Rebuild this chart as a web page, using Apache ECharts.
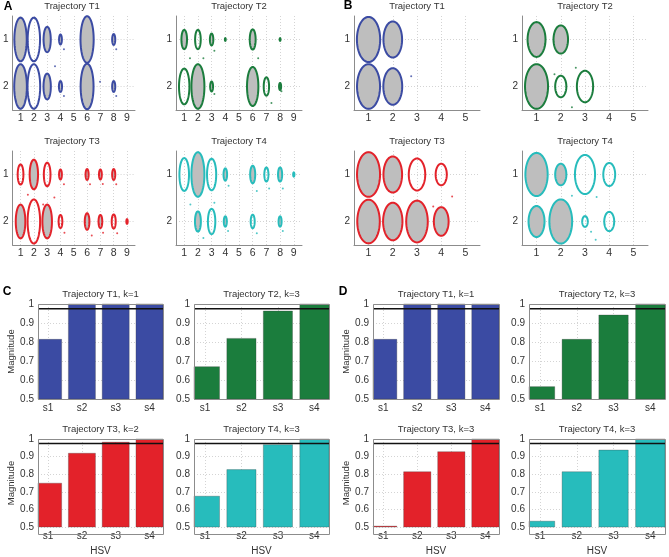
<!DOCTYPE html>
<html><head><meta charset="utf-8">
<script src="https://cdn.jsdelivr.net/npm/echarts@6/dist/echarts.min.js"></script>
<style>html,body{margin:0;padding:0;background:#fff}#c{width:669px;height:557px}</style>
</head><body><div id="c"></div>
<script>
// ---------- DATA ----------
// ellipse rows: [x, y, size (diameter in data units), filled 1/0]
const A_T1 = [[1,1,0.93,1],[2,1,0.93,0],[3,1,0.54,1],[4,1,0.21,1],[6,1,0.99,1],[8,1,0.23,1],
              [1,2,0.95,1],[2,2,0.95,0],[3,2,0.55,1],[4,2,0.23,1],[6,2,0.97,1],[8,2,0.23,1]];
const A_T2 = [[1,1,0.41,1],[2,1,0.41,0],[3,1,0.25,1],[4,1,0.06,1],[6,1,0.43,1],[8,1,0.06,1],
              [1,2,0.76,0],[2,2,0.95,1],[3,2,0.21,1],[6,2,0.83,1],[7,2,0.39,0],[8,2,0.15,1]];
const A_T3 = [[1,1,0.43,0],[2,1,0.63,1],[3,1,0.5,0],[4,1,0.21,1],[6,1,0.23,1],[7,1,0.21,1],[8,1,0.23,1],
              [1,2,0.72,1],[2,2,0.94,0],[3,2,0.72,1],[4,2,0.28,0],[6,2,0.35,1],[7,2,0.28,1],[8,2,0.3,0],[9,2,0.1,1]];
const A_T4 = [[1,1,0.7,0],[2,1,0.95,1],[3,1,0.67,0],[4,1,0.26,1],[6,1,0.37,1],[7,1,0.3,0],[8,1,0.3,1],[9,1,0.09,1],
              [2,2,0.43,1],[3,2,0.54,0],[4,2,0.22,1],[6,2,0.29,0],[8,2,0.22,1]];
const B_T1 = [[1,1,0.96,1],[2,1,0.77,1],[1,2,0.95,1],[2,2,0.78,1]];
const B_T2 = [[1,1,0.74,1],[2,1,0.6,1],[1,2,0.95,1],[2,2,0.46,0],[3,2,0.67,0]];
const B_T3 = [[1,1,0.95,1],[2,1,0.77,1],[3,1,0.68,0],[4,1,0.46,0],
              [1,2,0.93,1],[2,2,0.8,1],[3,2,0.89,1],[4,2,0.61,1]];
const B_T4 = [[1,1,0.92,1],[2,1,0.46,1],[3,1,0.83,0],[4,1,0.49,0],
              [1,2,0.66,1],[2,2,0.94,1],[3,2,0.23,0],[4,2,0.41,0]];
// tiny specks: [x, y]
const A_T1_SPECKS = [[4.26,1.21],[3.59,1.57],[4.26,2.2],[6.97,1.9],[8.19,2.2],[8.19,1.21]];
const A_T2_SPECKS = [[1.42,1.4],[2.4,1.4],[3.2,1.24],[6.4,1.4],[7.37,2.35],[3.2,2.16],[8.1,2.1]];
const A_T3_SPECKS = [[1.55,1.43],[3.54,1.49],[2.7,1.64],[4.26,1.21],[6.22,1.21],[7.18,1.2],[8.19,1.21],
                     [4.3,2.24],[6.35,2.3],[7.2,2.24],[8.26,2.25]];
const A_T4_SPECKS = [[4.24,1.24],[6.3,1.35],[7.2,1.3],[8.2,1.3],[1.45,1.64],[3.2,1.6],[2.4,2.35],
                     [4.2,2.2],[6.3,2.25],[8.2,2.2]];
const B_T1_SPECKS = [[2.76,1.78]];
const B_T2_SPECKS = [[1.74,1.74],[2.62,1.6],[2.46,2.44]];
const B_T3_SPECKS = [[4.45,1.47],[3.67,1.68]];
const B_T4_SPECKS = [[2.46,1.45],[3.48,1.48],[3.25,2.22],[3.44,2.39]];

const A_X_TICKS = [1,2,3,4,5,6,7,8,9];
const B_X_TICKS = [1,2,3,4,5];
const ROW_TICKS = [1,2];

const BAR_CATS = ['s1','s2','s3','s4'];
const C_T1 = [0.814, 1, 1, 1];
const C_T2 = [0.670, 0.819, 0.963, 1];
const C_T3 = [0.749, 0.919, 0.982, 1];
const C_T4 = [0.675, 0.826, 0.968, 1];
const D_T1 = [0.814, 1, 1, 1];
const D_T2 = [0.565, 0.814, 0.942, 1];
const D_T3 = [0.505, 0.814, 0.928, 1];
const D_T4 = [0.533, 0.814, 0.937, 1];
const THRESHOLD = 0.975;

// ---------- STYLE / LAYOUT ----------
const COL = {blue:'#3b4ba3', green:'#1b7d3d', red:'#e3222a', cyan:'#27bcbc'};
const FILL = '#bebebe';
const FONT = 'Liberation Sans, Arial, Helvetica, sans-serif';
const TXT = '#333';
const AX = '#8c8c8c';

const ellPanels = [
  {d:A_T1, s:A_T1_SPECKS, c:COL.blue,  t:'Trajectory T1', g:[9,16,126,94],  xt:A_X_TICKS, xr:[0.4,9.6]},
  {d:A_T2, s:A_T2_SPECKS, c:COL.green, t:'Trajectory T2', g:[176,16,126,94], xt:A_X_TICKS, xr:[0.4,9.6]},
  {d:A_T3, s:A_T3_SPECKS, c:COL.red,   t:'Trajectory T3', g:[9,151,126,94], xt:A_X_TICKS, xr:[0.4,9.6]},
  {d:A_T4, s:A_T4_SPECKS, c:COL.cyan,  t:'Trajectory T4', g:[176,151,126,94], xt:A_X_TICKS, xr:[0.4,9.6]},
  {d:B_T1, s:B_T1_SPECKS, c:COL.blue,  t:'Trajectory T1', g:[354,16,126,94], xt:B_X_TICKS, xr:[0.4,5.6]},
  {d:B_T2, s:B_T2_SPECKS, c:COL.green, t:'Trajectory T2', g:[522,16,126,94], xt:B_X_TICKS, xr:[0.4,5.6]},
  {d:B_T3, s:B_T3_SPECKS, c:COL.red,   t:'Trajectory T3', g:[354,151,126,94], xt:B_X_TICKS, xr:[0.4,5.6]},
  {d:B_T4, s:B_T4_SPECKS, c:COL.cyan,  t:'Trajectory T4', g:[522,151,126,94], xt:B_X_TICKS, xr:[0.4,5.6]}
];
const barPanels = [
  {v:C_T1, c:COL.blue,  t:'Trajectory T1, k=1', g:[38,304,125,95],  ylab:true,  xlab:false},
  {v:C_T2, c:COL.green, t:'Trajectory T2, k=3', g:[194,304,135,95], ylab:false, xlab:false},
  {v:C_T3, c:COL.red,   t:'Trajectory T3, k=2', g:[38,439,125,95],  ylab:true,  xlab:true},
  {v:C_T4, c:COL.cyan,  t:'Trajectory T4, k=3', g:[194,439,135,95], ylab:false, xlab:true},
  {v:D_T1, c:COL.blue,  t:'Trajectory T1, k=1', g:[373,304,126,95], ylab:true,  xlab:false},
  {v:D_T2, c:COL.green, t:'Trajectory T2, k=3', g:[529,304,136,95], ylab:false, xlab:false},
  {v:D_T3, c:COL.red,   t:'Trajectory T3, k=3', g:[373,439,126,95], ylab:true,  xlab:true},
  {v:D_T4, c:COL.cyan,  t:'Trajectory T4, k=3', g:[529,439,136,95], ylab:false, xlab:true}
];
const BAR_X = [0.7, 4.4], BAR_Y = [0.5, 1], BAR_W = 0.8;

const grid = [], xAxis = [], yAxis = [], series = [], graphic = [];
const splitDotted = {show:true, lineStyle:{color:'#d4d4d4', type:[1,2], width:1}};

function ellipseRender(color){
  return function(params, api){
    const c = api.coord([api.value(0), api.value(1)]);
    const sz = api.size([api.value(2), api.value(2)]);
    const rx = sz[0]/2, ry = sz[1]/2, pts = [];
    for (let i=0;i<72;i++){const a=i/72*Math.PI*2; pts.push([c[0]+rx*Math.cos(a), c[1]+ry*Math.sin(a)]);}
    return {type:'polygon', shape:{points:pts},
      style:{fill: api.value(3)===1 ? FILL : 'rgba(0,0,0,0)', stroke: color, lineWidth: 2}};
  };
}
function barRender(color){
  return function(params, api){
    const x = api.value(0), v = api.value(1);
    const p1 = api.coord([x-BAR_W/2, v]), p2 = api.coord([x+BAR_W/2, BAR_Y[0]]);
    const cs = params.coordSys;
    const r = echarts.graphic.clipRectByRect(
      {x:p1[0], y:p1[1], width:p2[0]-p1[0], height:p2[1]-p1[1]},
      {x:cs.x, y:cs.y, width:cs.width, height:cs.height});
    if (!r) return null;
    return {type:'rect', shape:r, style:{fill:color, stroke:'rgba(60,60,60,0.5)', lineWidth:0.6}};
  };
}

ellPanels.forEach((p,i)=>{
  const idx = grid.length;
  grid.push({left:p.g[0], top:p.g[1], width:p.g[2], height:p.g[3], containLabel:false});
  xAxis.push({type:'value', gridIndex:idx, min:p.xr[0], max:p.xr[1],
    axisLine:{show:true, onZero:false, lineStyle:{color:AX}},
    axisTick:{show:false, customValues:p.xt},
    axisLabel:{customValues:p.xt, color:TXT, fontSize:10.5, fontFamily:FONT, margin:3},
    splitLine:splitDotted});
  yAxis.push({type:'value', gridIndex:idx, min:0.5, max:2.5, inverse:true,
    axisLine:{show:true, lineStyle:{color:AX}},
    axisTick:{show:false, customValues:ROW_TICKS},
    axisLabel:{customValues:ROW_TICKS, color:TXT, fontSize:10, fontFamily:FONT, margin:4},
    splitLine:splitDotted});
  series.push({type:'custom', xAxisIndex:idx, yAxisIndex:idx, renderItem:ellipseRender(p.c),
    data:p.d, clip:false, silent:true});
  series.push({type:'scatter', xAxisIndex:idx, yAxisIndex:idx, data:p.s, symbolSize:2,
    itemStyle:{color:p.c}, silent:true});
  graphic.push({type:'text', x:p.g[0]+p.g[2]/2, y:p.g[1]-10,
    style:{text:p.t, align:'center', verticalAlign:'middle', fill:TXT, font:'9.5px '+FONT}});
});

barPanels.forEach((p,i)=>{
  const idx = grid.length;
  grid.push({left:p.g[0], top:p.g[1], width:p.g[2], height:p.g[3], containLabel:false});
  xAxis.push({type:'value', gridIndex:idx, min:BAR_X[0], max:BAR_X[1],
    name: p.xlab ? 'HSV' : '', nameLocation:'middle', nameGap:19,
    nameTextStyle:{color:TXT, fontSize:10, fontFamily:FONT},
    axisLine:{show:false}, axisTick:{show:false, customValues:[1,2,3,4]},
    axisLabel:{customValues:[1,2,3,4], formatter:v=>BAR_CATS[Math.round(v)-1],
      color:TXT, fontSize:10, fontFamily:FONT, margin:4},
    splitLine:splitDotted});
  yAxis.push({type:'value', gridIndex:idx, min:BAR_Y[0], max:BAR_Y[1], interval:0.1,
    name: p.ylab ? 'Magnitude' : '', nameLocation:'middle', nameGap:21, nameRotate:90,
    nameTextStyle:{color:TXT, fontSize:9.5, fontFamily:FONT},
    axisLine:{show:false}, axisTick:{show:false},
    axisLabel:{color:TXT, fontSize:10, fontFamily:FONT, margin:4},
    splitLine:splitDotted});
  series.push({type:'custom', xAxisIndex:idx, yAxisIndex:idx, renderItem:barRender(p.c),
    data:p.v.map((v,k)=>[k+1, v]), silent:true});
  series.push({type:'line', xAxisIndex:idx, yAxisIndex:idx, showSymbol:false, silent:true,
    data:[[BAR_X[0], THRESHOLD],[BAR_X[1], THRESHOLD]], lineStyle:{color:'#111', width:1.5}, z:5});
  graphic.push({type:'rect', z:100, shape:{x:p.g[0]+0.5, y:p.g[1]+0.5, width:p.g[2], height:p.g[3]},
    style:{fill:'none', stroke:AX, lineWidth:1}});
  graphic.push({type:'text', x:p.g[0]+p.g[2]/2, y:p.g[1]-10,
    style:{text:p.t, align:'center', verticalAlign:'middle', fill:TXT, font:'9.5px '+FONT}});
});

[['A',8,7],['B',348,6],['C',7,292],['D',343,292]].forEach(l=>{
  graphic.push({type:'text', x:l[1], y:l[2],
    style:{text:l[0], align:'center', verticalAlign:'middle', fill:'#000', font:'bold 12px '+FONT}});
});

const chart = echarts.init(document.getElementById('c'), null, {renderer:'canvas'});
chart.setOption({animation:false, backgroundColor:'#fff', grid, xAxis, yAxis, series, graphic});
</script></body></html>
